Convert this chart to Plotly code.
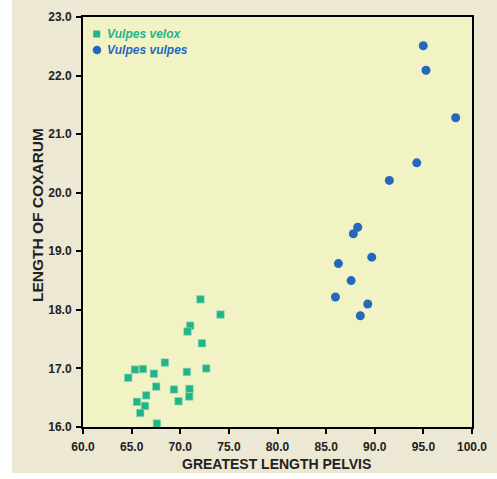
import plotly.graph_objects as go

# Vulpes velox (squares)
velox_x = [72.08, 74.14, 71.02, 70.75, 72.23, 68.42, 65.34, 66.16, 72.67, 67.29, 70.68,
           64.65, 67.53, 69.35, 70.95, 66.50, 70.92, 65.55, 69.82, 66.37, 65.89, 67.60]
velox_y = [18.18, 17.92, 17.73, 17.63, 17.43, 17.10, 16.98, 16.99, 17.00, 16.91, 16.94,
           16.84, 16.69, 16.64, 16.65, 16.54, 16.52, 16.43, 16.44, 16.36, 16.24, 16.06]

# Vulpes vulpes (circles)
vulpes_x = [88.25, 87.80, 89.69, 86.26, 87.57, 85.96, 89.28, 88.52, 94.99, 95.27, 98.32, 94.32, 91.50]
vulpes_y = [19.41, 19.30, 18.90, 18.79, 18.50, 18.22, 18.10, 17.90, 22.51, 22.09, 21.28, 20.51, 20.21]

x_ticks = [60, 65, 70, 75, 80, 85, 90, 95, 100]
y_ticks = [16, 17, 18, 19, 20, 21, 22, 23]

GREEN = "#21b489"
BLUE = "#2468bd"
BEIGE = "#ece8d3"
PLOTBG = "#f2f3c4"
FONT = "Liberation Sans, Arial, sans-serif"

W, H = 497, 479
ML, MR, MT, MB = 83, 25, 17, 52
PW = W - ML - MR
PH = H - MT - MB

fig = go.Figure()
fig.add_trace(go.Scatter(x=velox_x, y=velox_y, mode="markers", name="Vulpes velox",
                         marker=dict(symbol="square", size=7.5, color=GREEN,
                                     line=dict(width=0.6, color="#8fd8b8"))))
fig.add_trace(go.Scatter(x=vulpes_x, y=vulpes_y, mode="markers", name="Vulpes vulpes",
                         marker=dict(symbol="circle", size=9, color=BLUE,
                                     line=dict(width=0))))

def px_x(p):
    return (p - ML) / PW

def px_y(p):
    return (H - MB - p) / PH

shapes = [
    # white strips outside the beige panel
    dict(type="rect", xref="paper", yref="paper", x0=px_x(-5), x1=px_x(12), y0=px_y(485), y1=px_y(-5),
         fillcolor="white", line=dict(width=0), layer="below"),
    dict(type="rect", xref="paper", yref="paper", x0=px_x(-5), x1=px_x(505), y0=px_y(485), y1=px_y(473),
         fillcolor="white", line=dict(width=0), layer="below"),
    # legend swatches
    dict(type="rect", xref="paper", yref="paper", xsizemode="pixel", ysizemode="pixel",
         xanchor=px_x(96.7), yanchor=px_y(34), x0=-3.5, x1=3.5, y0=-3.5, y1=3.5,
         fillcolor=GREEN, line=dict(width=0)),
    dict(type="circle", xref="paper", yref="paper", xsizemode="pixel", ysizemode="pixel",
         xanchor=px_x(97), yanchor=px_y(50), x0=-4.3, x1=4.3, y0=-4.3, y1=4.3,
         fillcolor=BLUE, line=dict(width=0)),
]

annotations = [
    dict(text="<b><i>Vulpes velox</i></b>", xref="paper", yref="paper", x=px_x(105), y=px_y(34),
         xanchor="left", yanchor="middle", showarrow=False, font=dict(family=FONT, size=12, color=GREEN)),
    dict(text="<b><i>Vulpes vulpes</i></b>", xref="paper", yref="paper", x=px_x(105), y=px_y(50),
         xanchor="left", yanchor="middle", showarrow=False, font=dict(family=FONT, size=12, color=BLUE)),
    # y-axis title
    dict(text="<b>LENGTH OF COXARUM</b>", xref="paper", yref="paper", x=px_x(37), y=px_y(215),
         xanchor="center", yanchor="middle", textangle=-90, showarrow=False,
         font=dict(family=FONT, size=15.5, color="#222222")),
    # x-axis title
    dict(text="<b>GREATEST LENGTH PELVIS</b>", xref="paper", yref="paper", x=px_x(276), y=px_y(464),
         xanchor="center", yanchor="middle", showarrow=False,
         font=dict(family=FONT, size=14, color="#222222")),
]

axis_common = dict(showline=True, linewidth=2, linecolor="black", mirror=True,
                   ticks="outside", ticklen=5, tickwidth=2, tickcolor="black",
                   showgrid=False, zeroline=False, automargin=False,
                   tickfont=dict(family=FONT, size=12, color="#222222", weight="bold"),
                   tickformat=".1f")

fig.update_layout(
    width=W, height=H,
    margin=dict(l=ML, r=MR, t=MT, b=MB),
    paper_bgcolor=BEIGE, plot_bgcolor=PLOTBG,
    showlegend=False,
    shapes=shapes, annotations=annotations,
    xaxis=dict(range=[60, 100], tickvals=x_ticks, ticklabelstandoff=3, **axis_common),
    yaxis=dict(range=[16, 23], tickvals=y_ticks, ticklabelstandoff=2, **axis_common),
)

fig.write_html("out.html")
